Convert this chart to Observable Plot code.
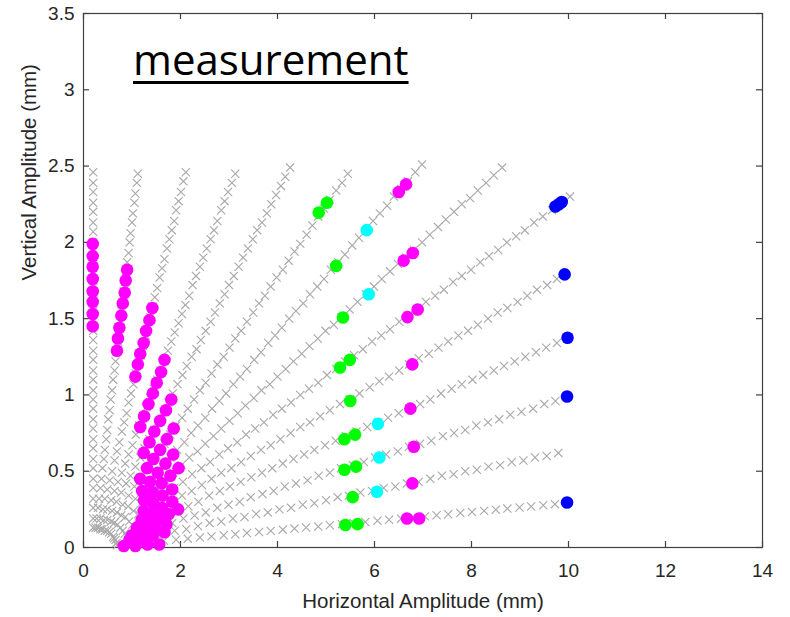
<!DOCTYPE html>
<html><head><meta charset="utf-8">
<script src="https://cdn.jsdelivr.net/npm/d3@7"></script>
<script src="https://cdn.jsdelivr.net/npm/@observablehq/plot@0.6"></script>
<style>
html,body{margin:0;padding:0;background:#fff;}
#wrap{position:relative;width:790px;height:617px;}
#title{position:absolute;left:133px;top:38px;font-family:"Open Sans",sans-serif;font-size:42px;line-height:42px;color:#000;
 text-decoration:underline;text-decoration-thickness:2.5px;text-underline-offset:6px;white-space:nowrap;}
</style></head>
<body><div id="wrap"><div id="chart"></div><div id="title"></div></div>
<script>
const titleText = "measurement";
const xLabelText = "Horizontal Amplitude (mm)";
const yLabelText = "Vertical Amplitude (mm)";
const xTicks = [0,2,4,6,8,10,12,14];
const yTicks = [0,0.5,1,1.5,2,2.5,3,3.5];

// gray "x" markers, one array per sweep ray [H, V]
const ray01 = [[0.2,0.13],[0.2,0.19],[0.2,0.26],[0.2,0.32],[0.2,0.39],[0.2,0.45],[0.2,0.52],[0.2,0.58],[0.2,0.65],[0.2,0.71],[0.2,0.78],[0.2,0.84],[0.2,0.91],[0.2,0.97],[0.2,1.03],[0.2,1.10],[0.2,1.16],[0.2,1.23],[0.2,1.29],[0.2,1.36],[0.2,1.42],[0.2,1.49],[0.2,1.55],[0.2,1.62],[0.2,1.68],[0.2,1.75],[0.2,1.81],[0.2,1.88],[0.2,1.94],[0.2,2.00],[0.2,2.07],[0.2,2.13],[0.2,2.20],[0.2,2.26],[0.2,2.33],[0.2,2.39],[0.2,2.46]];
const ray02 = [[0.25,0.13],[0.27,0.19],[0.30,0.26],[0.32,0.32],[0.35,0.39],[0.37,0.45],[0.39,0.52],[0.42,0.58],[0.44,0.64],[0.47,0.71],[0.49,0.77],[0.51,0.84],[0.54,0.90],[0.56,0.97],[0.59,1.03],[0.61,1.10],[0.64,1.16],[0.66,1.22],[0.68,1.29],[0.71,1.35],[0.73,1.42],[0.76,1.48],[0.78,1.55],[0.81,1.61],[0.83,1.68],[0.85,1.74],[0.88,1.81],[0.90,1.87],[0.93,1.93],[0.95,2.00],[0.97,2.06],[1.00,2.13],[1.02,2.19],[1.05,2.26],[1.07,2.32],[1.10,2.39],[1.12,2.45]];
const ray03 = [[0.30,0.13],[0.35,0.19],[0.40,0.25],[0.44,0.32],[0.49,0.38],[0.54,0.44],[0.59,0.50],[0.64,0.57],[0.69,0.63],[0.74,0.69],[0.79,0.76],[0.84,0.82],[0.89,0.88],[0.93,0.95],[0.98,1.01],[1.03,1.07],[1.08,1.14],[1.13,1.20],[1.18,1.26],[1.23,1.32],[1.28,1.39],[1.33,1.45],[1.38,1.51],[1.42,1.58],[1.47,1.64],[1.52,1.70],[1.57,1.77],[1.62,1.83],[1.67,1.89],[1.72,1.96],[1.77,2.02],[1.82,2.08],[1.87,2.14],[1.91,2.21],[1.96,2.27],[2.01,2.33],[2.06,2.40],[2.11,2.46]];
const ray04 = [[0.35,0.12],[0.42,0.18],[0.49,0.25],[0.57,0.31],[0.64,0.37],[0.71,0.43],[0.79,0.49],[0.86,0.55],[0.93,0.61],[1.01,0.67],[1.08,0.74],[1.15,0.80],[1.23,0.86],[1.30,0.92],[1.37,0.98],[1.45,1.04],[1.52,1.10],[1.59,1.16],[1.67,1.23],[1.74,1.29],[1.81,1.35],[1.88,1.41],[1.96,1.47],[2.03,1.53],[2.10,1.59],[2.18,1.65],[2.25,1.72],[2.32,1.78],[2.40,1.84],[2.47,1.90],[2.54,1.96],[2.62,2.02],[2.69,2.08],[2.76,2.14],[2.84,2.21],[2.91,2.27],[2.98,2.33],[3.06,2.39],[3.13,2.45]];
const ray05 = [[0.39,0.12],[0.49,0.18],[0.59,0.24],[0.68,0.30],[0.78,0.36],[0.88,0.42],[0.97,0.47],[1.07,0.53],[1.17,0.59],[1.26,0.65],[1.36,0.71],[1.46,0.77],[1.55,0.83],[1.65,0.89],[1.75,0.95],[1.84,1.01],[1.94,1.07],[2.04,1.13],[2.13,1.19],[2.23,1.25],[2.33,1.30],[2.42,1.36],[2.52,1.42],[2.62,1.48],[2.71,1.54],[2.81,1.60],[2.91,1.66],[3.00,1.72],[3.10,1.78],[3.20,1.84],[3.29,1.90],[3.39,1.96],[3.49,2.02],[3.58,2.08],[3.68,2.13],[3.78,2.19],[3.87,2.25],[3.97,2.31],[4.07,2.37],[4.16,2.43],[4.26,2.49]];
const ray06 = [[0.44,0.11],[0.57,0.17],[0.69,0.23],[0.81,0.28],[0.93,0.34],[1.05,0.40],[1.18,0.46],[1.30,0.51],[1.42,0.57],[1.54,0.63],[1.67,0.68],[1.79,0.74],[1.91,0.80],[2.03,0.85],[2.15,0.91],[2.28,0.97],[2.40,1.03],[2.52,1.08],[2.64,1.14],[2.76,1.20],[2.89,1.25],[3.01,1.31],[3.13,1.37],[3.25,1.42],[3.37,1.48],[3.50,1.54],[3.62,1.60],[3.74,1.65],[3.86,1.71],[3.98,1.77],[4.11,1.82],[4.23,1.88],[4.35,1.94],[4.47,1.99],[4.60,2.05],[4.72,2.11],[4.84,2.17],[4.96,2.22],[5.08,2.28],[5.21,2.34],[5.33,2.39],[5.45,2.45]];
const ray07 = [[0.49,0.11],[0.63,0.16],[0.78,0.21],[0.92,0.27],[1.07,0.32],[1.21,0.37],[1.35,0.43],[1.50,0.48],[1.64,0.53],[1.79,0.59],[1.93,0.64],[2.08,0.69],[2.22,0.75],[2.36,0.80],[2.51,0.85],[2.65,0.91],[2.80,0.96],[2.94,1.01],[3.09,1.07],[3.23,1.12],[3.37,1.17],[3.52,1.23],[3.66,1.28],[3.81,1.34],[3.95,1.39],[4.09,1.44],[4.24,1.50],[4.38,1.55],[4.53,1.60],[4.67,1.66],[4.82,1.71],[4.96,1.76],[5.10,1.82],[5.25,1.87],[5.39,1.92],[5.54,1.98],[5.68,2.03],[5.83,2.08],[5.97,2.14],[6.11,2.19],[6.26,2.24],[6.40,2.30],[6.55,2.35],[6.69,2.40],[6.84,2.46],[6.98,2.51]];
const ray08 = [[0.53,0.10],[0.70,0.15],[0.86,0.20],[1.03,0.24],[1.19,0.29],[1.36,0.34],[1.52,0.39],[1.69,0.44],[1.85,0.49],[2.02,0.54],[2.18,0.59],[2.35,0.63],[2.51,0.68],[2.68,0.73],[2.84,0.78],[3.01,0.83],[3.18,0.88],[3.34,0.93],[3.51,0.98],[3.67,1.03],[3.84,1.07],[4.00,1.12],[4.17,1.17],[4.33,1.22],[4.50,1.27],[4.66,1.32],[4.83,1.37],[4.99,1.42],[5.16,1.46],[5.32,1.51],[5.49,1.56],[5.65,1.61],[5.82,1.66],[5.99,1.71],[6.15,1.76],[6.32,1.81],[6.48,1.86],[6.65,1.90],[6.81,1.95],[6.98,2.00],[7.14,2.05],[7.31,2.10],[7.47,2.15],[7.64,2.20],[7.80,2.25],[7.97,2.29],[8.13,2.34],[8.30,2.39],[8.46,2.44],[8.63,2.49]];
const ray09 = [[0.57,0.09],[0.76,0.13],[0.94,0.17],[1.13,0.22],[1.31,0.26],[1.50,0.30],[1.68,0.35],[1.87,0.39],[2.05,0.43],[2.24,0.48],[2.43,0.52],[2.61,0.56],[2.80,0.61],[2.98,0.65],[3.17,0.69],[3.35,0.74],[3.54,0.78],[3.72,0.82],[3.91,0.87],[4.09,0.91],[4.28,0.95],[4.47,1.00],[4.65,1.04],[4.84,1.08],[5.02,1.13],[5.21,1.17],[5.39,1.22],[5.58,1.26],[5.76,1.30],[5.95,1.35],[6.14,1.39],[6.32,1.43],[6.51,1.48],[6.69,1.52],[6.88,1.56],[7.06,1.61],[7.25,1.65],[7.43,1.69],[7.62,1.74],[7.80,1.78],[7.99,1.82],[8.18,1.87],[8.36,1.91],[8.55,1.95],[8.73,2.00],[8.92,2.04],[9.10,2.08],[9.29,2.13],[9.47,2.17],[9.66,2.21],[9.84,2.26],[10.03,2.30]];
const ray10 = [[0.61,0.07],[0.81,0.11],[1.01,0.15],[1.22,0.19],[1.42,0.22],[1.62,0.26],[1.83,0.30],[2.03,0.34],[2.23,0.37],[2.44,0.41],[2.64,0.45],[2.84,0.49],[3.05,0.52],[3.25,0.56],[3.45,0.60],[3.66,0.64],[3.86,0.67],[4.06,0.71],[4.27,0.75],[4.47,0.79],[4.67,0.82],[4.88,0.86],[5.08,0.90],[5.29,0.94],[5.49,0.97],[5.69,1.01],[5.90,1.05],[6.10,1.09],[6.30,1.12],[6.51,1.16],[6.71,1.20],[6.91,1.24],[7.12,1.27],[7.32,1.31],[7.52,1.35],[7.73,1.39],[7.93,1.42],[8.13,1.46],[8.34,1.50],[8.54,1.54],[8.74,1.57],[8.95,1.61],[9.15,1.65],[9.35,1.69],[9.56,1.72],[9.76,1.76]];
const ray11 = [[0.63,0.06],[0.85,0.09],[1.07,0.12],[1.29,0.15],[1.50,0.18],[1.72,0.21],[1.94,0.24],[2.16,0.27],[2.37,0.30],[2.59,0.34],[2.81,0.37],[3.02,0.40],[3.24,0.43],[3.46,0.46],[3.68,0.49],[3.89,0.52],[4.11,0.55],[4.33,0.58],[4.55,0.61],[4.76,0.64],[4.98,0.67],[5.20,0.70],[5.41,0.73],[5.63,0.76],[5.85,0.79],[6.07,0.82],[6.28,0.85],[6.50,0.88],[6.72,0.91],[6.94,0.94],[7.15,0.97],[7.37,1.01],[7.59,1.04],[7.80,1.07],[8.02,1.10],[8.24,1.13],[8.46,1.16],[8.67,1.19],[8.89,1.22],[9.11,1.25],[9.33,1.28],[9.54,1.31],[9.76,1.34]];
const ray12 = [[0.66,0.05],[0.90,0.07],[1.13,0.09],[1.36,0.12],[1.59,0.14],[1.83,0.16],[2.06,0.19],[2.29,0.21],[2.52,0.23],[2.76,0.26],[2.99,0.28],[3.22,0.30],[3.45,0.33],[3.69,0.35],[3.92,0.37],[4.15,0.40],[4.38,0.42],[4.62,0.44],[4.85,0.47],[5.08,0.49],[5.31,0.52],[5.55,0.54],[5.78,0.56],[6.01,0.59],[6.24,0.61],[6.48,0.63],[6.71,0.66],[6.94,0.68],[7.17,0.70],[7.41,0.73],[7.64,0.75],[7.87,0.77],[8.10,0.80],[8.34,0.82],[8.57,0.84],[8.80,0.87],[9.03,0.89],[9.27,0.91],[9.50,0.94],[9.73,0.96]];
const ray13 = [[0.68,0.03],[0.92,0.05],[1.16,0.06],[1.40,0.08],[1.64,0.09],[1.88,0.11],[2.12,0.12],[2.36,0.14],[2.60,0.16],[2.84,0.17],[3.08,0.19],[3.32,0.20],[3.56,0.22],[3.80,0.23],[4.04,0.25],[4.28,0.26],[4.52,0.28],[4.76,0.29],[5.00,0.31],[5.24,0.33],[5.47,0.34],[5.71,0.36],[5.95,0.37],[6.19,0.39],[6.43,0.40],[6.67,0.42],[6.91,0.43],[7.15,0.45],[7.39,0.47],[7.63,0.48],[7.87,0.50],[8.11,0.51],[8.35,0.53],[8.59,0.54],[8.83,0.56],[9.07,0.57],[9.31,0.59],[9.55,0.60],[9.79,0.62]];
const ray14 = [[0.69,0.015],[0.93,0.022],[1.18,0.029],[1.42,0.036],[1.66,0.044],[1.91,0.051],[2.15,0.058],[2.40,0.066],[2.64,0.073],[2.89,0.080],[3.13,0.087],[3.37,0.095],[3.62,0.102],[3.86,0.109],[4.11,0.117],[4.35,0.124],[4.59,0.131],[4.84,0.138],[5.08,0.146],[5.33,0.153],[5.57,0.160],[5.81,0.167],[6.06,0.175],[6.30,0.182],[6.55,0.189],[6.79,0.197],[7.04,0.204],[7.28,0.211],[7.52,0.218],[7.77,0.226],[8.01,0.233],[8.26,0.240],[8.50,0.248],[8.74,0.255],[8.99,0.262],[9.23,0.269],[9.48,0.277],[9.72,0.284]];

// coloured measurement dots [H, V]
const magentaPts = [
 [0.19,1.45],[0.19,1.53],[0.19,1.61],[0.19,1.68],[0.19,1.76],[0.19,1.84],[0.19,1.91],[0.19,1.99],
 [0.69,1.29],[0.71,1.37],[0.74,1.44],[0.78,1.52],[0.81,1.60],[0.85,1.67],[0.87,1.75],[0.90,1.82],
 [1.07,1.12],[1.12,1.20],[1.17,1.27],[1.24,1.34],[1.29,1.42],[1.36,1.49],[1.42,1.57],
 [1.17,0.79],[1.25,0.86],[1.34,0.94],[1.43,1.01],[1.51,1.08],[1.60,1.15],[1.67,1.23],
 [1.24,0.62],[1.36,0.69],[1.46,0.76],[1.58,0.83],[1.70,0.90],[1.81,0.97],
 [1.17,0.45],[1.31,0.52],[1.44,0.58],[1.58,0.64],[1.72,0.71],[1.86,0.78],
 [1.21,0.37],[1.37,0.43],[1.53,0.49],[1.69,0.55],[1.85,0.61],
 [1.25,0.31],[1.43,0.36],[1.61,0.42],[1.79,0.47],[1.96,0.52],
 [1.24,0.24],[1.44,0.29],[1.63,0.34],[1.83,0.38],
 [1.20,0.18],[1.41,0.22],[1.62,0.26],[1.83,0.30],
 [1.10,0.13],[1.32,0.16],[1.54,0.19],[1.76,0.22],[1.95,0.25],
 [1.00,0.08],[1.24,0.11],[1.47,0.13],[1.71,0.15],
 [0.95,0.05],[1.19,0.06],[1.43,0.08],[1.67,0.10],
 [0.83,0.01],[1.07,0.01],[1.32,0.02],[1.56,0.02],
 [6.50,2.33],[6.65,2.38],[6.60,1.88],[6.79,1.93],[6.68,1.51],[6.89,1.56],[6.78,1.20],[6.74,0.91],[6.81,0.66],[6.78,0.42],[6.67,0.19],[6.92,0.19]
];
const greenPts = [[4.85,2.195],[5.02,2.26],[5.21,1.846],[5.35,1.507],[5.29,1.18],[5.49,1.23],[5.50,0.96],[5.38,0.71],[5.60,0.74],[5.38,0.51],[5.62,0.53],[5.55,0.33],[5.40,0.147],[5.65,0.153]];
const cyanPts = [[5.84,2.08],[5.88,1.66],[6.07,0.81],[6.10,0.59],[6.05,0.365]];
const bluePts = [[9.73,2.235],[9.80,2.25],[9.86,2.265],[9.92,1.79],[9.98,1.375],[9.97,0.99],[9.97,0.295]];

const rays = [ray01,ray02,ray03,ray04,ray05,ray06,ray07,ray08,ray09,ray10,ray11,ray12,ray13,ray14];
const grayPts = rays.flat();

const W = 790, H = 617, mL = 83, mR = 28, mT = 13, mB = 70;
const frameW = W - mL - mR, frameH = H - mT - mB, tick = 6;
const axisColor = "#404040", textColor = "#262626";
const dotR = 6.3;
const X = d => d[0], Y = d => d[1];

const chart = Plot.plot({
  width: W, height: H,
  marginLeft: mL, marginRight: mR, marginTop: mT, marginBottom: mB,
  style: {fontFamily: "'Liberation Sans', Arial, sans-serif", fontSize: "19px", color: textColor, background: "#fff"},
  x: {domain: [0, 14], ticks: xTicks},
  y: {domain: [0, 3.5], ticks: yTicks},
  marks: [
    Plot.frame({stroke: axisColor, strokeWidth: 1.2}),
    Plot.tickX(xTicks, {x: d => d, insetTop: frameH - tick, stroke: axisColor, strokeWidth: 1.2}),
    Plot.tickX(xTicks, {x: d => d, insetBottom: frameH - tick, stroke: axisColor, strokeWidth: 1.2}),
    Plot.tickY(yTicks, {y: d => d, insetRight: frameW - tick, stroke: axisColor, strokeWidth: 1.2}),
    Plot.tickY(yTicks, {y: d => d, insetLeft: frameW - tick, stroke: axisColor, strokeWidth: 1.2}),
    Plot.axisX(xTicks, {anchor: "bottom", tickSize: 0, tickPadding: 16, label: null, tickFormat: d => String(d), fill: textColor}),
    Plot.axisY(yTicks, {anchor: "left", tickSize: 0, tickPadding: 9, label: null, tickFormat: d => String(d), fill: textColor}),
    Plot.text([xLabelText], {frameAnchor: "bottom", dy: 46, lineAnchor: "top", fontSize: 20.5, fill: textColor}),
    Plot.text([yLabelText], {frameAnchor: "left", dx: -62, rotate: -90, lineAnchor: "top", fontSize: 20.5, fill: textColor}),
    Plot.dot(grayPts, {x: X, y: Y, symbol: "times", r: 3.8, stroke: "#a8a8a8", strokeWidth: 1.1}),
    Plot.dot(greenPts, {x: X, y: Y, r: dotR, fill: "#00ff00"}),
    Plot.dot(cyanPts, {x: X, y: Y, r: dotR, fill: "#00ffff"}),
    Plot.dot(magentaPts, {x: X, y: Y, r: dotR, fill: "#ff00ff"}),
    Plot.dot(bluePts, {x: X, y: Y, r: dotR, fill: "#0000ff"})
  ]
});
document.getElementById("chart").appendChild(chart);
document.getElementById("title").textContent = titleText;
</script>
</body></html>
